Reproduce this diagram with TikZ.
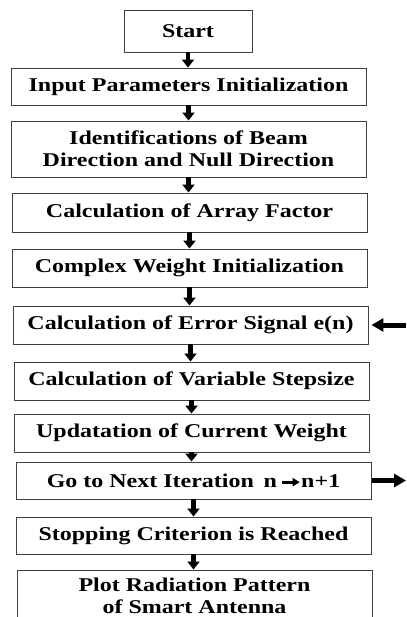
\documentclass[tikz,border=0pt]{standalone}
\usepackage{fontspec}
\setmainfont{Liberation Serif}[BoldFeatures={FakeStretch=1.23}]
\usetikzlibrary{arrows.meta}
\tikzset{
  box/.style={draw=black!75, line width=0.9pt, rectangle, minimum width=355pt,
    minimum height=38pt, inner sep=0pt, align=center,
    font=\fontsize{19.5}{21.5}\selectfont\bfseries},
  flow/.style={line width=4.5pt, -{Triangle[width=12pt,length=8pt]}},
  side/.style={line width=5pt, -{Triangle[width=13pt,length=12pt]}},
}
\newcommand{\smallarrow}{\tikz[x=1pt,y=1pt,baseline=0pt]\draw[line width=3pt,-{Triangle[width=8pt,length=7pt]}] (0,5) -- (18,5);}
\begin{document}
\begin{tikzpicture}[x=1pt,y=-1pt]
  \useasboundingbox (0,0) rectangle (406,617);
  \clip (0,0) rectangle (406,617);
  \node[box, minimum width=128pt, minimum height=42pt] (start) at (188,31) {Start};
  \node[box, minimum height=37pt] (inp) at (188.5,86.5) {Input Parameters Initialization};
  \node[box, minimum height=56pt] (ident) at (188.5,149) {Identifications of Beam\\Direction and Null Direction};
  \node[box, minimum height=39pt] (array) at (189.5,212.5) {Calculation of Array Factor};
  \node[box] (cplx) at (189.5,268) {Complex Weight Initialization};
  \node[box] (err) at (190.5,325) {Calculation of Error Signal e(n)};
  \node[box] (var) at (191.5,381) {Calculation of Variable Stepsize};
  \node[box] (upd) at (191.5,433) {Updatation of Current Weight};
  \node[box, minimum height=37pt] (goto) at (193.5,480.5) {Go to Next Iteration\enspace n\,\smallarrow n+1};
  \node[box, minimum height=37pt] (stop) at (193.5,535.5) {Stopping Criterion is Reached};
  \node[box, minimum height=52pt] (plot) at (194.5,596) {Plot Radiation Pattern\\of Smart Antenna};

  % main flow
  \draw[flow] (start.south) -- (start.south |- inp.north);
  \draw[flow] (inp.south) -- (inp.south |- ident.north);
  \draw[flow] (ident.south) -- (ident.south |- array.north);
  \draw[flow] (array.south) -- (array.south |- cplx.north);
  \draw[flow] (cplx.south) -- (cplx.south |- err.north);
  \draw[flow] (err.south) -- (err.south |- var.north);
  \draw[flow] (var.south) -- (var.south |- upd.north);
  \draw[flow] (upd.south) -- (upd.south |- goto.north);
  \draw[flow] (goto.south) -- (goto.south |- stop.north);
  \draw[flow] (stop.south) -- (stop.south |- plot.north);

  % loop ends at the right edge
  \coordinate (loopin) at (406,325);
  \coordinate (loopout) at (406,480.5);
  \draw[side, shorten >=3pt] (loopin) -- (err.east);
  \draw[side, shorten <=1pt] (goto.east) -- (loopout);
\end{tikzpicture}
\end{document}
